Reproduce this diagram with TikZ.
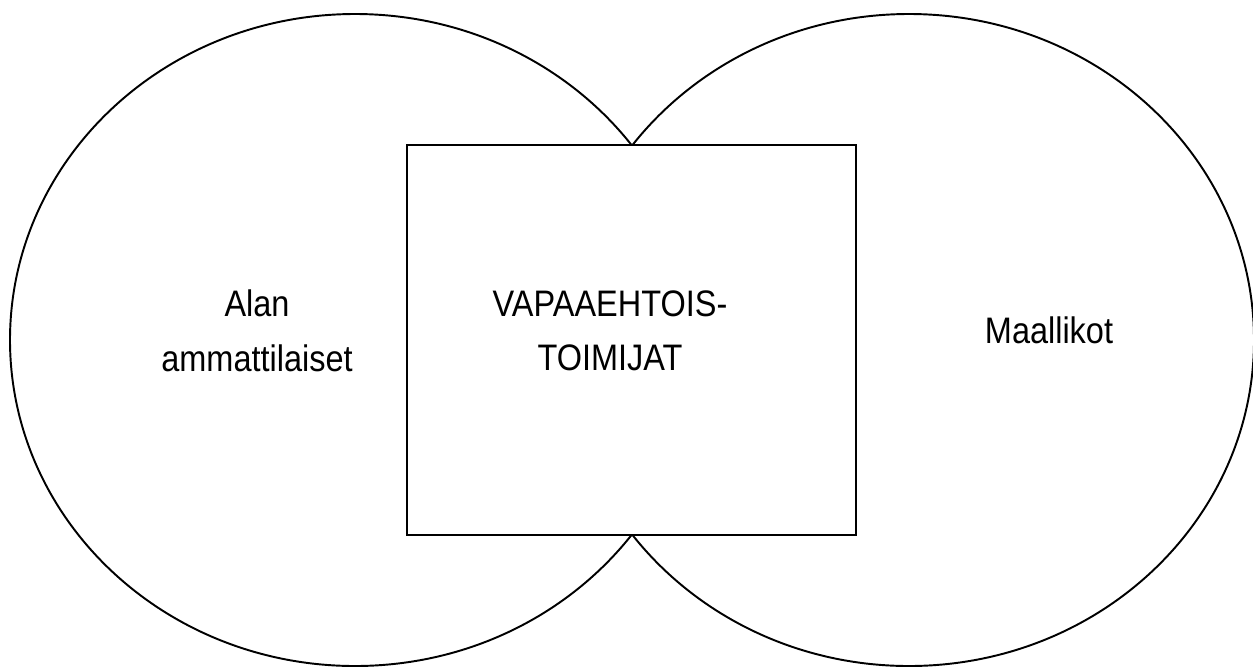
\documentclass[tikz,border=0pt]{standalone}
\usepackage{fontspec}
\setmainfont{Liberation Sans}
\usetikzlibrary{shapes.geometric}
\tikzset{label text/.style = {align = center, font = \fontsize{21}{31}\selectfont, xscale = 0.88}}
\begin{document}
\begin{tikzpicture}[x=0.02cm,y=-0.02cm,line width=1.1pt]
\pgfmathsetlengthmacro\ew{690*0.02cm};
\pgfmathsetlengthmacro\eh{652*0.02cm};
\useasboundingbox (0,0) rectangle (1253,667);
\clip (0,0) rectangle (1253,667);
\foreach \cx/\nm in {355/ammatti,909/maallikot} \node [draw = black, ellipse, inner sep = 0pt, minimum width = \ew, minimum height = \eh] (\nm) at (\cx,340) {};
\node [draw = black, fill = white, inner sep = 0pt, minimum width = 8.98cm, minimum height = 7.8cm] (vapaa) at (631.5,340) {};
\node [label text] (ammattitxt) at (257,331) {Alan\\ammattilaiset};
\node [label text] (vapaatxt) at (610,331) {VAPAAEHTOIS-\\TOIMIJAT};
\node [label text] (maallikottxt) at (1049,330) {Maallikot};
\end{tikzpicture}
\end{document}
